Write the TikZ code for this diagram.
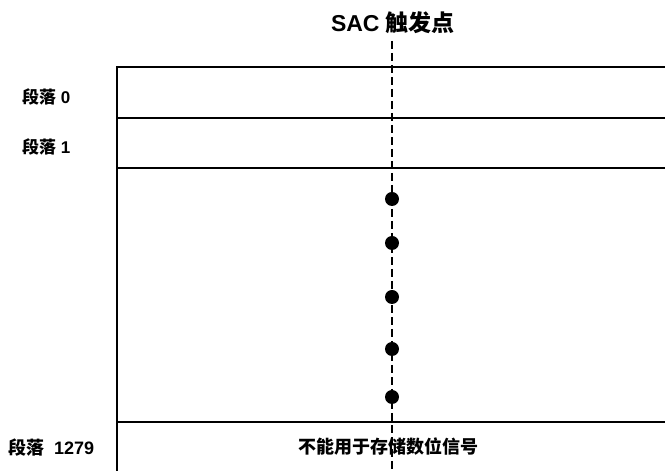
\documentclass[tikz,border=0pt]{standalone}
\usepackage{fontspec}
\setmainfont{Liberation Sans}
\newfontfamily\cjk{Noto Sans CJK SC}
\begin{document}
\begin{tikzpicture}[x=1pt,y=1pt,
  frameline/.style={line width=2pt,black},
  trigline/.style={line width=1.8pt,dash pattern=on 8pt off 4pt},
  dotmark/.style={circle,fill=black,inner sep=0pt,minimum size=14pt},
  lbl/.style={font=\bfseries\fontsize{17}{17}\selectfont,anchor=west,inner sep=0pt},
  toptitle/.style={font=\bfseries\fontsize{23}{23}\selectfont,inner sep=0pt},
  bottext/.style={font=\bfseries\fontsize{18}{18}\selectfont,inner sep=0pt}]
\useasboundingbox (0,0) rectangle (665,471);
% frame
\coordinate (tl) at (117,404);
\coordinate (bl) at (117,-2);
\coordinate (tr) at (667,404);
\draw[frameline] (bl) -- (tl) -- (tr);
\coordinate (l1) at (117,353); \coordinate (r1) at (667,353);
\coordinate (l2) at (117,303); \coordinate (r2) at (667,303);
\coordinate (l3) at (117,49);  \coordinate (r3) at (667,49);
\draw[frameline] (l1) -- (r1);
\draw[frameline] (l2) -- (r2);
\draw[frameline] (l3) -- (r3);
% trigger line
\node[toptitle] (title) at (393,448) {SAC {\cjk 触发点}};
\coordinate (tstart) at (392,430);
\coordinate (tend) at (392,-2);
\draw[trigline] (tstart) -- (tend);
% dots
\node[dotmark] (d1) at (392,272) {};
\node[dotmark] (d2) at (392,228) {};
\node[dotmark] (d3) at (392,174) {};
\node[dotmark] (d4) at (392,122) {};
\node[dotmark] (d5) at (392,74) {};
% labels
\node[lbl] (s0) at (22,374) {{\cjk 段落} 0};
\node[lbl] (s1) at (22,324) {{\cjk 段落} 1};
\node[lbl,font=\bfseries\fontsize{18}{18}\selectfont] (s1279) at (8,23) {{\cjk 段落}\ \ 1279};
\node[bottext] (note) at (388,24) {\cjk 不能用于存储数位信号};
\end{tikzpicture}
\end{document}
